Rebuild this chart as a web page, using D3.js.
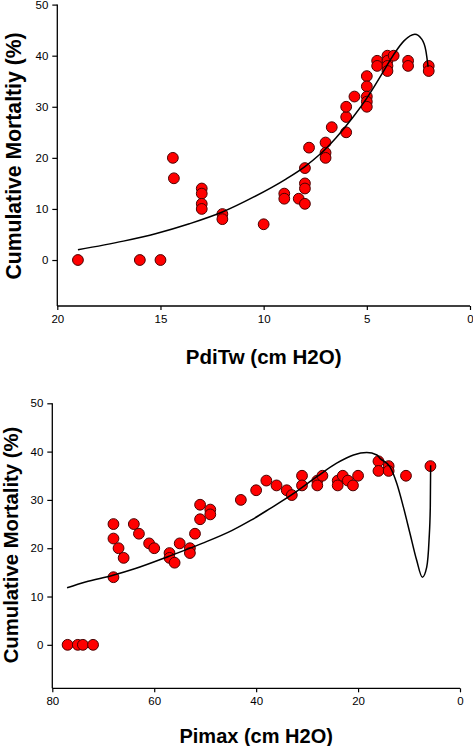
<!DOCTYPE html>
<html><head><meta charset="utf-8">
<script src="https://cdn.jsdelivr.net/npm/d3@7"></script>
<style>html,body{margin:0;padding:0;background:#fff}svg{display:block}</style>
</head><body>
<script>
// ---- Top panel: PdiTw ----
const pdiX = [19,16,15,14.4,14.35,13,13,13,13,12,12,10,9,9,8.3,8,8,8,8,7.8,7,7,7,6.7,6,6,6,5.6,5,5,5,5,5,4.5,4.5,4,4,4,4,3.7,3,3,2,2];
const pdiY = [0,0,0,20,16,14,13,11,10,9,8,7,13,12,12,18,15,14,11,22,23,21,20,26,25,28,30,32,36,34,32,31,30,39,38,40,39,38,37,40,39,38,38,37];
const pdiCurveX = [19,16.8,15.2,13.6,12.0,10.5,8.9,8.0,7.3,6.5,5.7,5.0,4.2,3.7,3.2,2.67,2.35,2.14,2.03];
const pdiCurveY = [2.0,3.7,5.2,7.1,9.4,12.3,15.9,18.3,20.6,23.9,27.8,31.7,36.9,40.2,42.9,44.2,43.3,41.0,37.8];
const pdiXTicks = [20,15,10,5,0];
const pdiYTicks = [0,10,20,30,40,50];

// ---- Bottom panel: Pimax ----
const pimaxX = [77,75,74,72,68,68,68,67,66,64,63,61,60,57,57,56,55,53,53,52,51,51,49,49,43,40,38,36,34,33,31,31,28,28,27,24,24,23,22,21,20,16,16,14,14,10.6,5.8];
const pimaxY = [0,0,0,0,25,22,14,20,18,25,23,21,20,19,18,17,21,20,19,23,29,26,28,27,30,32,34,33,32,31,35,33,34,33,35,34,33,35,34,33,35,38,36,37,36,35,37];
const pimaxCurveX = [77.1,73.5,68.1,63.7,57.2,50.6,44.7,41.0,37.3,32.7,28.1,24.2,20.9,18.3,16.3,15.7,13.7,12.4,11.1,9.8,8.5,7.39,6.53,6.08,5.83,5.76];
const pimaxCurveY = [11.8,13.0,14.4,15.8,18.3,21.0,23.7,25.8,28.2,31.3,34.8,37.6,39.3,39.8,39.3,38.6,36.8,33.4,28.5,23.0,17.5,14.0,16.1,21.6,28.5,37.2];
const pimaxXTicks = [80,60,40,20,0];
const pimaxYTicks = [0,10,20,30,40,50];

const svg = d3.select("body").append("svg").attr("width",473).attr("height",746);
const FONT = "Liberation Sans, Arial, sans-serif";

function panel(cfg){
  const g = svg.append("g");
  const x = d3.scaleLinear().domain(cfg.xDomain).range(cfg.xRange);
  const y = d3.scaleLinear().domain(cfg.yDomain).range(cfg.yRange);
  const xa = g.append("g").attr("transform",`translate(0,${cfg.yRange[0]})`)
    .call(d3.axisBottom(x).tickValues(cfg.xTicks).tickSize(4).tickPadding(5).tickFormat(d3.format("d")));
  const ya = g.append("g").attr("transform",`translate(${cfg.xRange[0]},0)`)
    .call(d3.axisLeft(y).tickValues(cfg.yTicks).tickSize(5).tickPadding(4).tickFormat(d3.format("d")));
  [xa,ya].forEach(a=>{
    a.select(".domain").attr("stroke","#000").attr("stroke-width",1.3);
    a.selectAll(".tick line").attr("stroke","#000").attr("stroke-width",1.2);
    a.selectAll("text").attr("font-family",FONT).attr("font-size",cfg.tickFont).attr("fill","#000");
  });
  xa.select(".domain").attr("d",`M${cfg.xRange[0]},0H${cfg.xRange[1]}`);
  ya.select(".domain").attr("d",`M0,${cfg.yRange[0]}V${cfg.yRange[1]}`);
  g.append("g").selectAll("circle").data(cfg.px.map((v,i)=>[v,cfg.py[i]])).join("circle")
    .attr("cx",d=>x(d[0])).attr("cy",d=>y(d[1])).attr("r",5.4)
    .attr("fill","#ff0000").attr("stroke","#4a0000").attr("stroke-width",1);
  const line = d3.line().x(d=>x(d[0])).y(d=>y(d[1])).curve(d3.curveMonotoneX);
  g.append("path").datum(cfg.cx.map((v,i)=>[v,cfg.cy[i]]))
    .attr("d",line).attr("fill","none").attr("stroke","#000").attr("stroke-width",1.5);
  g.append("text").attr("x",(cfg.xRange[0]+cfg.xRange[1])/2).attr("y",cfg.xTitleY)
    .attr("text-anchor","middle").attr("font-family",FONT).attr("font-weight","bold")
    .attr("font-size",cfg.xTitleFont).text(cfg.xTitle);
  g.append("text").attr("transform",`translate(${cfg.yTitleX},${cfg.yTitleC}) rotate(-90)`)
    .attr("text-anchor","middle").attr("font-family",FONT).attr("font-weight","bold")
    .attr("font-size",cfg.yTitleFont).text(cfg.yTitle);
}

panel({
  xDomain:[20,0], xRange:[57.3,470], yDomain:[-9,50], yRange:[306,4.6],
  xTicks:pdiXTicks, yTicks:pdiYTicks, px:pdiX, py:pdiY, cx:pdiCurveX, cy:pdiCurveY,
  tickFont:"11.5px", xTitle:"PdiTw (cm H2O)", xTitleY:363.5, xTitleFont:"20.5px",
  yTitle:"Cumulative Mortaltiy (%)", yTitleX:21, yTitleC:156, yTitleFont:"21.2px"
});
panel({
  xDomain:[80,0], xRange:[52.3,460], yDomain:[-9,50], yRange:[688.3,403.3],
  xTicks:pimaxXTicks, yTicks:pimaxYTicks, px:pimaxX, py:pimaxY, cx:pimaxCurveX, cy:pimaxCurveY,
  tickFont:"11.5px", xTitle:"Pimax (cm H2O)", xTitleY:742.5, xTitleFont:"20px",
  yTitle:"Cumulative Mortality (%)", yTitleX:18, yTitleC:545, yTitleFont:"20.3px"
});
</script>
</body></html>
